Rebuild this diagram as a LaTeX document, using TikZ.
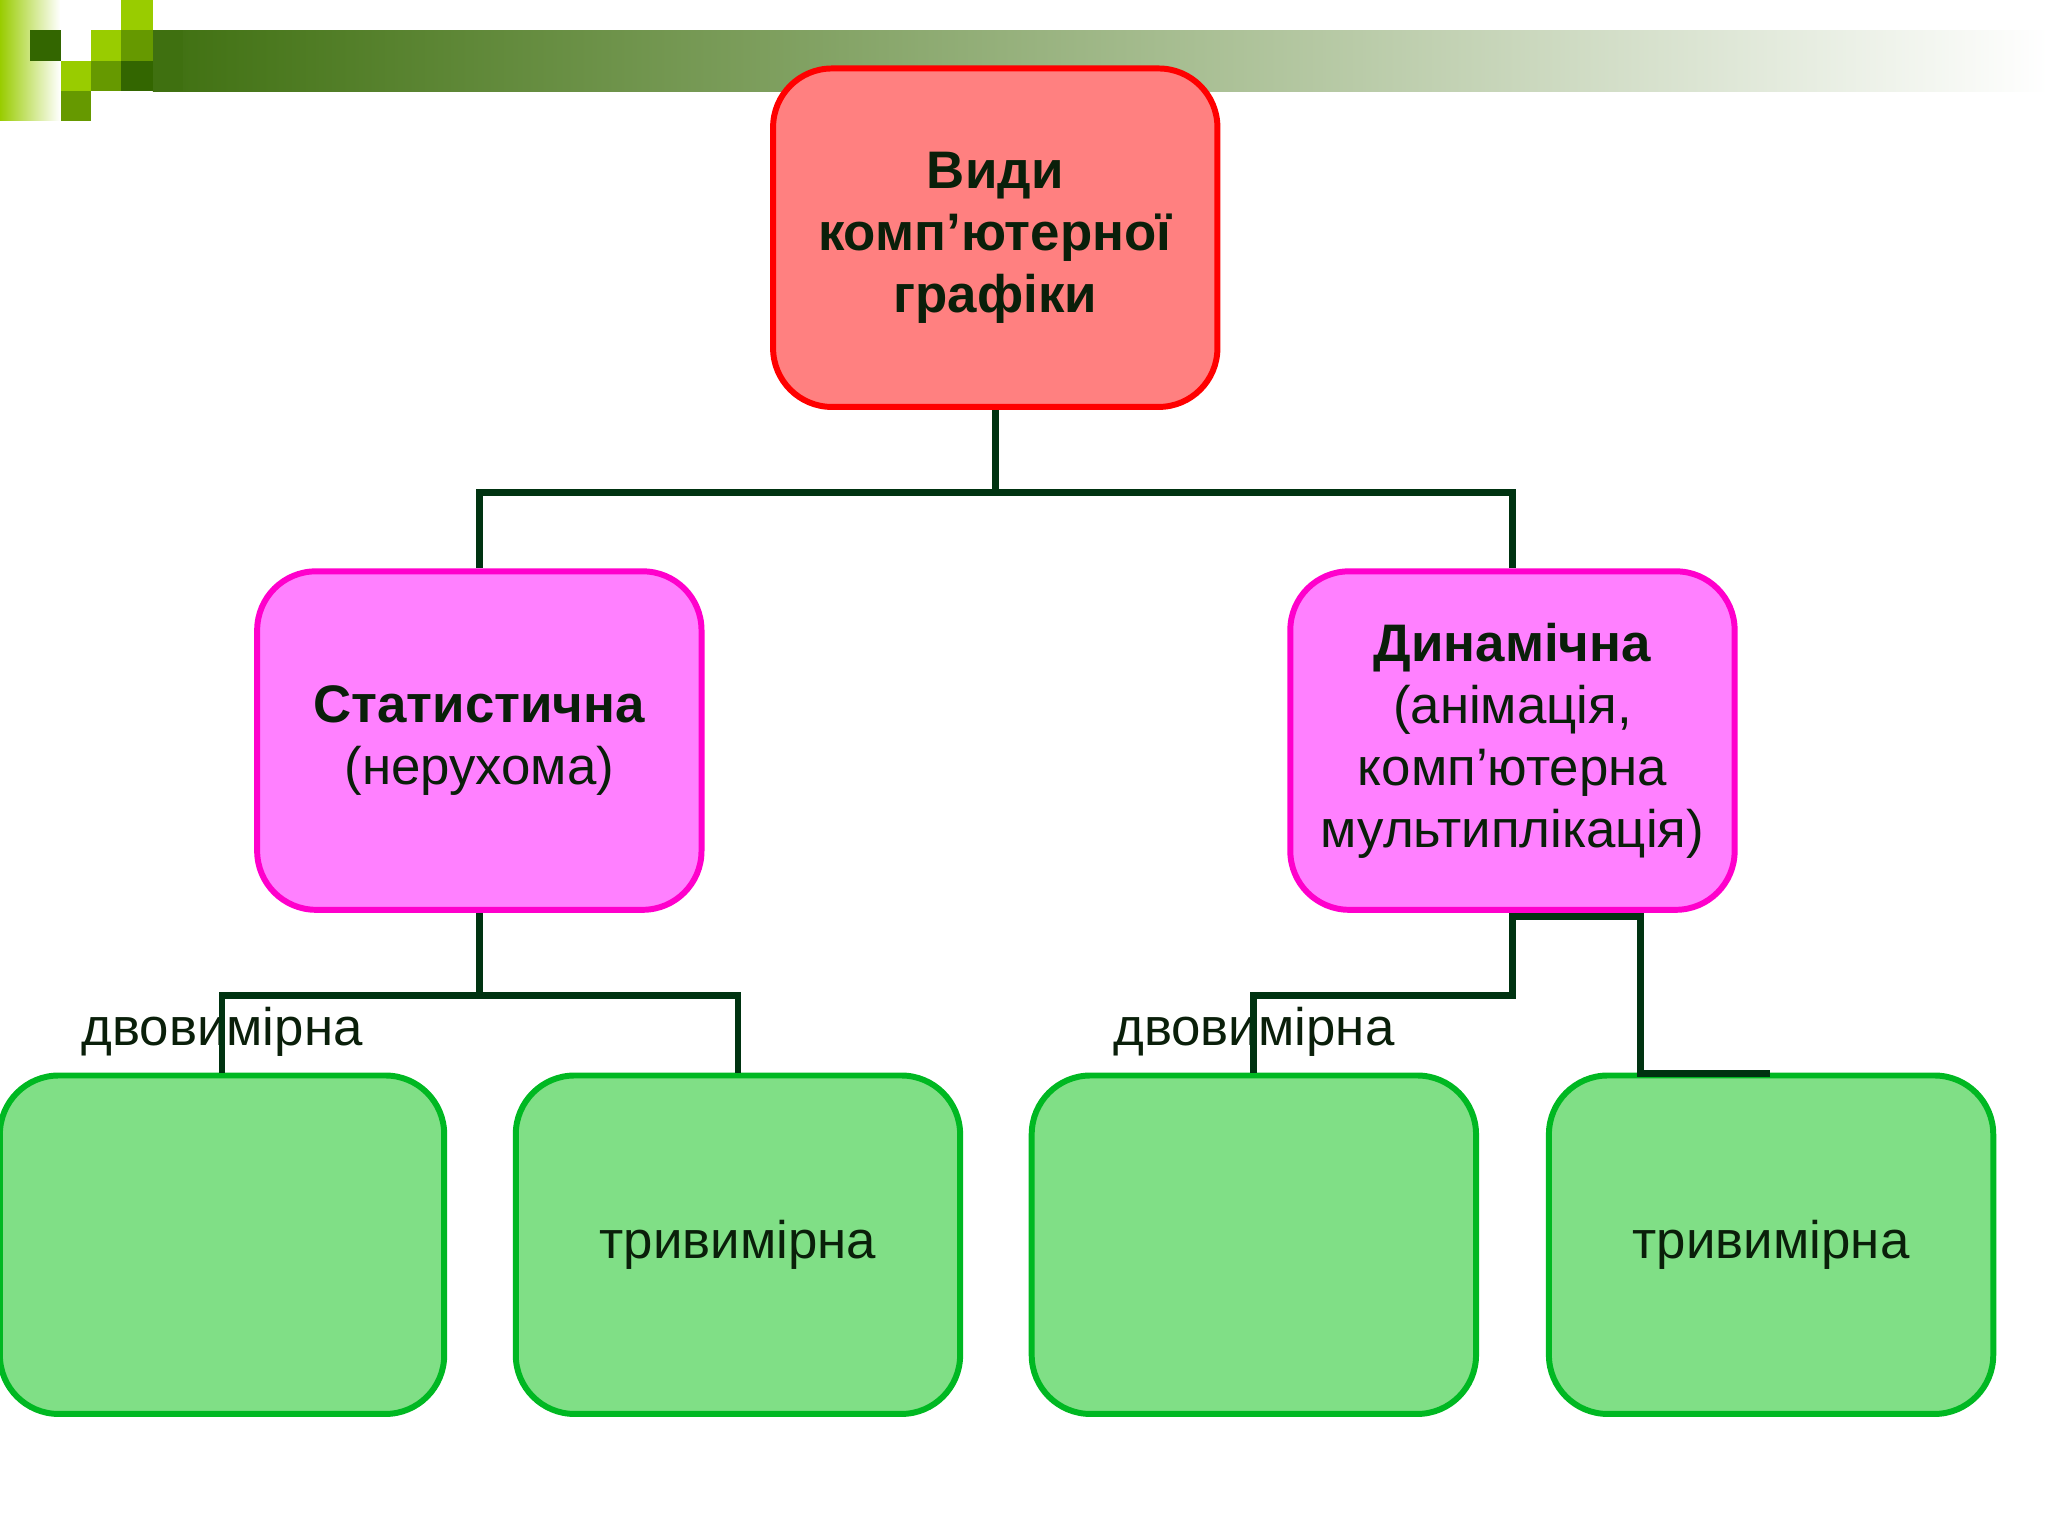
\documentclass[tikz,border=0pt]{standalone}
\usepackage{fontspec}
\setmainfont{Liberation Sans}
\begin{document}
\begin{tikzpicture}[x=0.01cm,y=-0.01cm,
  box/.style={rounded corners=0.45cm,line width=1.3pt,minimum width=3.4cm,minimum height=2.59cm,align=center,text=txt,font=\fontsize{11.5}{13.5}\selectfont},
  topbox/.style={box,fill=redfill,draw=red},
  midbox/.style={box,fill=magfill,draw=magdraw},
  lowbox/.style={box,fill=grnfill,draw=grndraw},
  conn/.style={draw=lnk,line width=1.5pt}]
\definecolor{redfill}{HTML}{FF8080}
\definecolor{magfill}{HTML}{FF80FF}
\definecolor{magdraw}{HTML}{FF00CC}
\definecolor{grnfill}{HTML}{80DF86}
\definecolor{grndraw}{HTML}{00B822}
\definecolor{lnk}{HTML}{003311}
\definecolor{txt}{HTML}{0A1F0A}
\definecolor{lg}{HTML}{99CC00}
\definecolor{mg}{HTML}{669900}
\definecolor{dg}{HTML}{336600}
\definecolor{bg}{HTML}{3F7010}
\useasboundingbox (0,0) rectangle (1568,1176);
% header
\shade[left color=lg,right color=white] (0,0) rectangle (46,92);
\shade[left color=bg,right color=white] (117,23) rectangle (1568,70);
\fill[dg] (23,23) rectangle (47,47);
\fill[lg] (47,47) rectangle (70,70);
\fill[mg] (47,70) rectangle (70,93);
\fill[lg] (70,23) rectangle (93,47);
\fill[mg] (70,47) rectangle (93,70);
\fill[lg] (93,0) rectangle (117,23);
\fill[mg] (93,23) rectangle (117,47);
\fill[dg] (93,47) rectangle (117,70);
\fill[bg] (117,23) rectangle (140,70);
% nodes
\node[topbox] (top) at (762,182) {\textbf{Види}\\\textbf{комп'ютерної}\\\textbf{графіки}};
\node[midbox] (sta) at (367,567) {\textbf{Статистична}\\(нерухома)};
\node[midbox] (dyn) at (1158,567) {\textbf{Динамічна}\\(анімація,\\комп'ютерна\\мультиплікація)};
\node[lowbox,text height=0.3cm] (b1) at (170,953) {двовимірна\\[1.2cm]};
\node[lowbox] (b2) at (565,953) {тривимірна};
\node[lowbox,text height=0.3cm] (b3) at (960,953) {двовимірна\\[1.2cm]};
\node[lowbox] (b4) at (1356,953) {тривимірна};
% connectors
\draw[conn] (top.south) -- ++(0,63) -| (sta.north);
\draw[conn] (top.south) ++(0,63) -| (dyn.north);
\draw[conn] (sta.south) -- ++(0,63) -| (b1.north);
\draw[conn] (sta.south) ++(0,63) -| (b2.north);
\draw[conn] (dyn.south) -- ++(0,63) -| (b3.north);
\draw[conn] (dyn.south) ++(0,3) -- ++(98,0) -- ++(0,120) -- ++(99,0);
\end{tikzpicture}
\end{document}
